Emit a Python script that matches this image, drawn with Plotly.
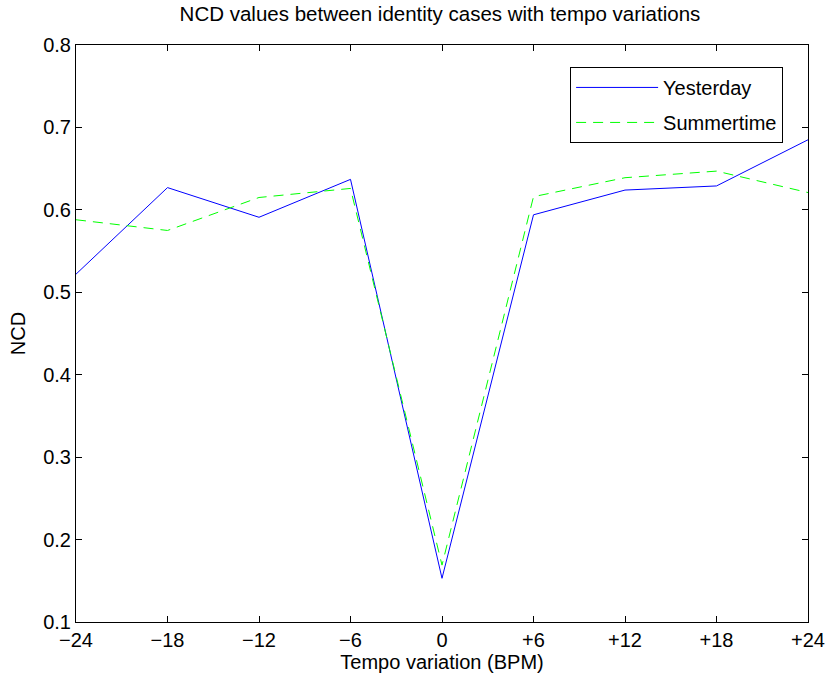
import plotly.graph_objects as go

x_vals = [-24, -18, -12, -6, 0, 6, 12, 18, 24]
x_labels = ["\u221224", "\u221218", "\u221212", "\u22126", "0", "+6", "+12", "+18", "+24"]
yesterday = [0.522, 0.627, 0.591, 0.637, 0.153, 0.594, 0.624, 0.629, 0.685]
summertime = [0.588, 0.575, 0.615, 0.626, 0.169, 0.616, 0.639, 0.647, 0.621]
y_ticks = [0.1, 0.2, 0.3, 0.4, 0.5, 0.6, 0.7, 0.8]

fig = go.Figure()
fig.add_trace(go.Scatter(x=x_vals, y=yesterday, mode="lines", name="Yesterday",
                         legendgroup="a",
                         line=dict(color="#0000ff", width=1)))
fig.add_trace(go.Scatter(x=x_vals, y=summertime, mode="lines", name="Summertime",
                         legendgroup="b",
                         line=dict(color="#00ff00", width=1, dash="10px,7px")))

axis_common = dict(showgrid=False, zeroline=False, showline=True, linecolor="black",
                   linewidth=1, mirror="allticks", ticks="inside", ticklen=6,
                   tickcolor="black", tickfont=dict(size=20, color="black"),
                   automargin=False)

fig.update_layout(
    width=827, height=676,
    margin=dict(l=76, r=19, t=45, b=54),
    paper_bgcolor="white", plot_bgcolor="white",
    font=dict(family="Liberation Sans, Arial, sans-serif", color="black", size=20),
    title=dict(text="NCD values between identity cases with tempo variations",
               x=0.532, xanchor="center", y=0.99, yanchor="top",
               font=dict(size=20.5)),
    xaxis=dict(range=[-24, 24], tickvals=x_vals, ticktext=x_labels,
               title=dict(text="Tempo variation (BPM)", standoff=4, font=dict(size=20)),
               **axis_common),
    yaxis=dict(range=[0.1, 0.8], tickvals=y_ticks, ticktext=[f"{v:.1f}" for v in y_ticks],
               title=dict(text="NCD", standoff=12, font=dict(size=20)),
               **axis_common),
    legend=dict(x=0.675, y=0.962, xanchor="left", yanchor="top",
                bordercolor="black", borderwidth=1, bgcolor="white",
                font=dict(size=20), tracegroupgap=6, itemwidth=82),
    showlegend=True,
)

fig.write_html("out.html")
